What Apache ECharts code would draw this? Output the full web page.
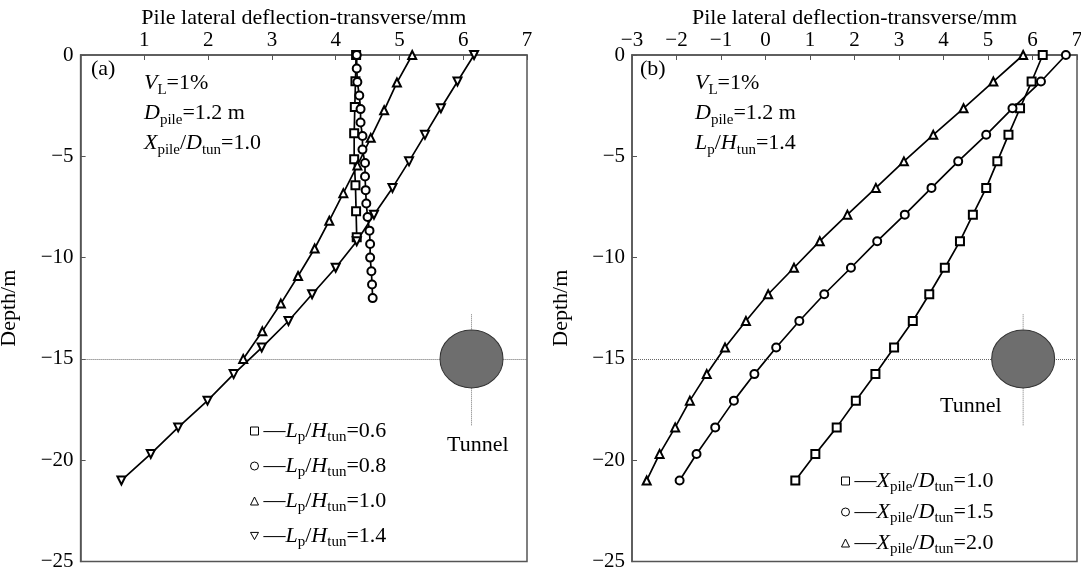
<!DOCTYPE html>
<html>
<head>
<meta charset="utf-8">
<script src="https://cdn.jsdelivr.net/npm/echarts@6/dist/echarts.min.js"></script>
<style>
  html, body { margin: 0; background: #fff; }
  #chart { width: 1081px; height: 568px; }
</style>
</head>
<body>
<div id="chart"></div>
<script>
var FONT = 'Liberation Serif';

// (a) different pile lengths, Xpile/Dtun=1.0
var depthA06 = [0, -1.29, -2.57, -3.86, -5.14, -6.43, -7.71, -9];
var deflA06 = [4.32, 4.31, 4.30, 4.29, 4.29, 4.31, 4.32, 4.33];
var depthA08 = [0, -0.67, -1.33, -2, -2.67, -3.33, -4, -4.67, -5.33, -6, -6.67, -7.33, -8, -8.67, -9.33, -10, -10.67, -11.33, -12];
var deflA08 = [4.33, 4.33, 4.34, 4.37, 4.39, 4.39, 4.42, 4.42, 4.46, 4.46, 4.47, 4.48, 4.50, 4.53, 4.54, 4.54, 4.56, 4.57, 4.58];
var depthA10 = [0, -1.36, -2.73, -4.09, -5.45, -6.82, -8.18, -9.55, -10.91, -12.27, -13.64, -15];
var deflA10 = [5.20, 4.96, 4.76, 4.55, 4.34, 4.12, 3.90, 3.67, 3.41, 3.14, 2.85, 2.55];
var depthA14 = [0, -1.31, -2.63, -3.94, -5.25, -6.56, -7.88, -9.19, -10.5, -11.81, -13.13, -14.44, -15.75, -17.06, -18.38, -19.69, -21];
var deflA14 = [6.17, 5.91, 5.65, 5.40, 5.15, 4.89, 4.60, 4.33, 4.00, 3.63, 3.26, 2.84, 2.40, 1.99, 1.53, 1.10, 0.64];

// (b) different pile positions, Lp/Htun=1.4
var depthB = [0, -1.31, -2.63, -3.94, -5.25, -6.56, -7.88, -9.19, -10.5, -11.81, -13.13, -14.44, -15.75, -17.06, -18.38, -19.69, -21];
var deflB10 = [6.23, 5.98, 5.72, 5.46, 5.21, 4.96, 4.66, 4.37, 4.03, 3.68, 3.31, 2.89, 2.47, 2.03, 1.60, 1.12, 0.67];
var deflB15 = [6.75, 6.19, 5.55, 4.96, 4.33, 3.73, 3.13, 2.51, 1.92, 1.32, 0.76, 0.24, -0.25, -0.71, -1.13, -1.55, -1.93];
var deflB20 = [5.79, 5.12, 4.45, 3.77, 3.11, 2.48, 1.84, 1.22, 0.64, 0.06, -0.44, -0.91, -1.32, -1.70, -2.03, -2.38, -2.67];

// tunnel centre (x in mm, depth in m) and its dotted centre line
var tunnelA = [6.13, -15];
var tunnelB = [5.79, -15];
var tunnelLineA = [[6.13, -12.8], [6.13, -18.3]];
var tunnelLineB = [[5.79, -12.8], [5.79, -18.3]];
var tunnelDepth = -15;

var namesA = ['Lp/Htun=0.6', 'Lp/Htun=0.8', 'Lp/Htun=1.0', 'Lp/Htun=1.4'];
var namesB = ['Xpile/Dtun=1.0', 'Xpile/Dtun=1.5', 'Xpile/Dtun=2.0'];

var DOWN_TRI = 'path://M0,0L10,0L5,9Z';

function pairs(xs, ys) {
  return xs.map(function (v, i) { return [v, ys[i]]; });
}

function richSet(lh) {
  return {
    i: { fontFamily: FONT, fontStyle: 'italic', fontSize: 22, lineHeight: lh, verticalAlign: 'middle', color: '#000' },
    n: { fontFamily: FONT, fontSize: 22, lineHeight: lh, verticalAlign: 'middle', color: '#000' },
    s: { fontFamily: FONT, fontSize: 15, lineHeight: 15, verticalAlign: 'bottom', color: '#000' },
    ln: { fontFamily: FONT, fontSize: 22, lineHeight: lh, verticalAlign: 'middle', color: '#000' }
  };
}

function legendText(name) {
  var v = name.split('=')[1];
  if (name.indexOf('Lp') === 0) {
    return '{ln|\u2014}{i|L}{s|p}{n|/}{i|H}{s|tun}{n|=' + v + '}';
  }
  return '{ln|\u2014}{i|X}{s|pile}{n|/}{i|D}{s|tun}{n|=' + v + '}';
}

function minus(v) { return String(v).replace('-', '\u2212'); }

function xAxis(idx, min, max, hideMin) {
  return {
    type: 'value', gridIndex: idx, position: 'top', min: min, max: max, interval: 1,
    name: 'Pile lateral deflection-transverse/mm', nameLocation: 'middle', nameGap: 26, nameMoveOverlap: false,
    nameTextStyle: { fontFamily: FONT, fontSize: 22, color: '#000' },
    axisLine: { show: true, onZero: false, lineStyle: { color: '#555', width: 1.5 } },
    axisTick: { show: true, inside: true, length: 5, lineStyle: { color: '#555' } },
    axisLabel: { fontFamily: FONT, fontSize: 21, color: '#000', margin: 4, showMinLabel: !hideMin, formatter: minus },
    splitLine: { show: false }
  };
}

function yAxis(idx) {
  return {
    type: 'value', gridIndex: idx, min: -25, max: 0, interval: 5,
    name: 'Depth/m', nameLocation: 'middle', nameGap: 60, nameRotate: 90, nameMoveOverlap: false,
    nameTextStyle: { fontFamily: FONT, fontSize: 22, color: '#000' },
    axisLine: { show: true, onZero: false, lineStyle: { color: '#555', width: 1.5 } },
    axisTick: { show: true, inside: true, length: 5, lineStyle: { color: '#555' } },
    axisLabel: { fontFamily: FONT, fontSize: 21, color: '#000', margin: 7, formatter: minus },
    splitLine: { show: false }
  };
}

function curve(name, idx, xs, ys, symbol, rotate) {
  return {
    name: name, type: 'line', xAxisIndex: idx, yAxisIndex: idx,
    data: pairs(xs, ys), symbol: symbol, symbolSize: 8, symbolRotate: rotate || 0,
    showAllSymbol: true, z: 5,
    lineStyle: { color: '#000', width: 1.7 },
    itemStyle: { color: '#000', borderWidth: 1 },
    emphasis: { disabled: true }, animation: false
  };
}

function tunnel(idx, centre, axisLine) {
  return [{
    type: 'line', xAxisIndex: idx, yAxisIndex: idx, data: axisLine, showSymbol: false, silent: true, z: 1,
    lineStyle: { color: '#777', width: 1, type: 'dotted' }, animation: false
  }, {
    type: 'scatter', xAxisIndex: idx, yAxisIndex: idx, data: [centre], symbol: 'circle', symbolSize: [63, 58],
    silent: true, z: 4,
    itemStyle: { color: '#6e6e6e', borderColor: '#333', borderWidth: 1, opacity: 1 },
    markLine: {
      silent: true, symbol: 'none', z: 1, animation: false,
      label: { show: false },
      lineStyle: { color: '#666', width: 1, type: 'dotted' },
      data: [{ yAxis: tunnelDepth }]
    },
    animation: false
  }];
}

function note(left, top, text) {
  return { type: 'text', left: left, top: top, style: { text: text, rich: richSet(30), font: '22px ' + FONT } };
}

var iconStyle = { color: '#fff', borderColor: '#000', borderWidth: 1 };

var chart = echarts.init(document.getElementById('chart'), null, { renderer: 'canvas' });

chart.setOption({
  backgroundColor: '#fff',
  animation: false,
  grid: [
    { left: 80.6, top: 55, width: 446.4, height: 506.5, outerBoundsMode: 'none', containLabel: false, show: true, borderColor: '#555', borderWidth: 1.5 },
    { left: 632, top: 55, width: 445, height: 506.5, outerBoundsMode: 'none', containLabel: false, show: true, borderColor: '#555', borderWidth: 1.5 }
  ],
  xAxis: [xAxis(0, 0, 7, true), xAxis(1, -3, 7, false)],
  yAxis: [yAxis(0), yAxis(1)],
  legend: [{
    orient: 'vertical', left: 245, top: 415, itemWidth: 8, itemHeight: 8, itemGap: 10,
    data: [
      { name: namesA[0], icon: 'rect', itemStyle: iconStyle },
      { name: namesA[1], icon: 'circle', itemStyle: iconStyle },
      { name: namesA[2], icon: 'triangle', itemStyle: iconStyle },
      { name: namesA[3], icon: DOWN_TRI, itemStyle: iconStyle }
    ],
    formatter: legendText,
    textStyle: { fontFamily: FONT, fontSize: 22, color: '#000', rich: richSet(28) },
    selectedMode: false
  }, {
    orient: 'vertical', left: 836, top: 465, itemWidth: 8, itemHeight: 8, itemGap: 6,
    data: [
      { name: namesB[0], icon: 'rect', itemStyle: iconStyle },
      { name: namesB[1], icon: 'circle', itemStyle: iconStyle },
      { name: namesB[2], icon: 'triangle', itemStyle: iconStyle }
    ],
    formatter: legendText,
    textStyle: { fontFamily: FONT, fontSize: 22, color: '#000', rich: richSet(28) },
    selectedMode: false
  }],
  graphic: [
    note(91, 58, '{n|(a)}'),
    note(144, 72, '{i|V}{s|L}{n|=1%}\n{i|D}{s|pile}{n|=1.2 m}\n{i|X}{s|pile}{n|/}{i|D}{s|tun}{n|=1.0}'),
    note(640, 58, '{n|(b)}'),
    note(695, 72, '{i|V}{s|L}{n|=1%}\n{i|D}{s|pile}{n|=1.2 m}\n{i|L}{s|p}{n|/}{i|H}{s|tun}{n|=1.4}'),
    { type: 'text', left: 447, top: 434, style: { text: 'Tunnel', font: '22px ' + FONT, fill: '#000' } },
    { type: 'text', left: 940, top: 395, style: { text: 'Tunnel', font: '22px ' + FONT, fill: '#000' } }
  ],
  series: [].concat(
    tunnel(0, tunnelA, tunnelLineA),
    tunnel(1, tunnelB, tunnelLineB),
    [
      curve(namesA[0], 0, deflA06, depthA06, 'emptyRect'),
      curve(namesA[1], 0, deflA08, depthA08, 'emptyCircle'),
      curve(namesA[2], 0, deflA10, depthA10, 'emptyTriangle'),
      curve(namesA[3], 0, deflA14, depthA14, 'emptyTriangle', 180),
      curve(namesB[0], 1, deflB10, depthB, 'emptyRect'),
      curve(namesB[1], 1, deflB15, depthB, 'emptyCircle'),
      curve(namesB[2], 1, deflB20, depthB, 'emptyTriangle')
    ]
  )
});
</script>
</body>
</html>
